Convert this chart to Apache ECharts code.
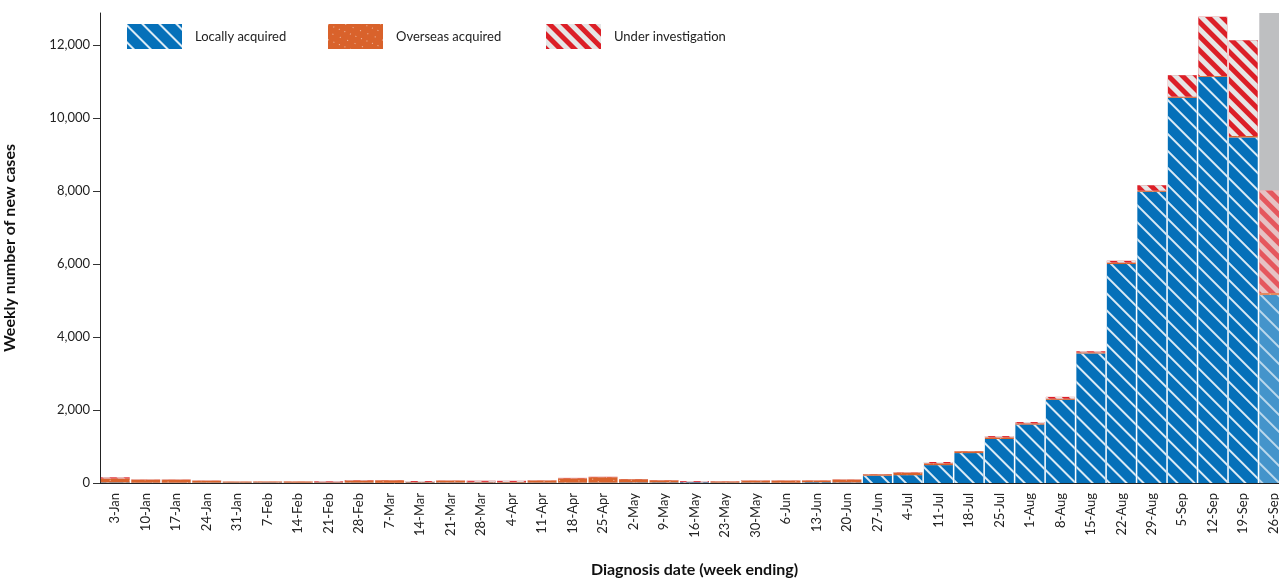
<!DOCTYPE html>
<html>
<head>
<meta charset="utf-8">
<script src="https://cdn.jsdelivr.net/npm/echarts@6/dist/echarts.min.js"></script>
<style>
html,body{margin:0;padding:0;background:#fff;}
#chart{width:1279px;height:579px;}
</style>
</head>
<body>
<div id="chart"></div>
<script>
const categories = ['3-Jan','10-Jan','17-Jan','24-Jan','31-Jan','7-Feb','14-Feb','21-Feb','28-Feb','7-Mar','14-Mar','21-Mar','28-Mar','4-Apr','11-Apr','18-Apr','25-Apr','2-May','9-May','16-May','23-May','30-May','6-Jun','13-Jun','20-Jun','27-Jun','4-Jul','11-Jul','18-Jul','25-Jul','1-Aug','8-Aug','15-Aug','22-Aug','29-Aug','5-Sep','12-Sep','19-Sep','26-Sep'];
const locallyAcquired = [15,8,8,10,10,12,8,10,10,5,12,12,12,10,10,10,10,15,15,20,10,12,8,20,15,200,215,490,820,1205,1600,2280,3550,6000,7980,10556,11130,9470,5150];
const overseasAcquired = [110,85,85,55,30,30,35,15,60,70,15,55,20,20,60,120,150,90,60,5,35,55,60,50,80,40,70,50,50,45,35,30,30,40,30,30,25,40,60];
const underInvestigation = [30,5,5,5,3,3,3,20,10,5,25,5,30,30,5,10,10,5,5,25,5,5,5,5,5,5,10,35,5,35,35,50,30,50,150,590,1620,2625,2815];
const yTicks = [0,2000,4000,6000,8000,10000,12000];
const yMax = 12880;
const incompleteIndex = categories.length - 1;

const fontFamily = 'Lato, "Noto Sans", sans-serif';
function fade(arr){
  return arr.map((v,i)=> i===incompleteIndex ? {value:v, itemStyle:{opacity:0.75}} : v);
}
const lastTotal = locallyAcquired[incompleteIndex] + overseasAcquired[incompleteIndex] + underInvestigation[incompleteIndex];
const incomplete = categories.map((c,i)=> i===incompleteIndex ? yMax - lastTotal : null);

const blueDecal = {symbol:'rect', symbolSize:1, dashArrayX:[1,0], dashArrayY:[1.2,9.5], rotation:Math.PI/4, color:'rgba(255,255,255,0.85)'};
const orangeDecal = {symbol:'rect', symbolSize:1, dashArrayX:[[1,7],[1,5]], dashArrayY:[1,6], rotation:0.4, color:'rgba(255,255,255,0.6)'};
const redDecal = {symbol:'rect', symbolSize:1, dashArrayX:[1,0], dashArrayY:[5,5], rotation:Math.PI/4, color:'#e6e6e6'};

const legendBase = {top:24, padding:0, itemWidth:55, itemHeight:25, icon:'rect', selectedMode:false,
  textStyle:{fontFamily, fontSize:13, color:'#222', padding:[0,0,0,8]}};

const chart = echarts.init(document.getElementById('chart'));
chart.setOption({
  animation:false,
  textStyle:{fontFamily},
  legend:[
    Object.assign({left:127, data:['Locally acquired']}, legendBase),
    Object.assign({left:328, data:['Overseas acquired']}, legendBase),
    Object.assign({left:546, data:['Under investigation']}, legendBase)
  ],
  grid:{left:100, right:-10, top:13, bottom:96, containLabel:false, outerBoundsMode:'none'},
  xAxis:{
    type:'category', data:categories,
    name:'Diagnosis date (week ending)', nameLocation:'middle', nameGap:79,
    nameTextStyle:{fontFamily, fontSize:16, fontWeight:'bold', color:'#111'},
    axisLine:{lineStyle:{color:'#222', width:1}},
    axisTick:{alignWithLabel:true, length:8, lineStyle:{color:'#333'}},
    axisLabel:{rotate:90, fontSize:13, color:'#222', margin:10, interval:0, fontFamily}
  },
  yAxis:{
    type:'value', min:0, max:yMax, interval:2000,
    name:'Weekly number of new cases', nameLocation:'middle', nameGap:82,
    nameTextStyle:{fontFamily, fontSize:16, fontWeight:'bold', color:'#111'},
    axisLine:{show:true, lineStyle:{color:'#222', width:1}},
    axisTick:{show:true, length:7, lineStyle:{color:'#333'}, customValues:yTicks},
    axisLabel:{fontSize:13, color:'#222', margin:10, customValues:yTicks, fontFamily,
      formatter:v=>v.toLocaleString('en-US')},
    splitLine:{show:false}
  },
  series:[
    {name:'Locally acquired', type:'bar', stack:'total', data:fade(locallyAcquired), barCategoryGap:'5%',
      itemStyle:{color:'#0570b9', decal:blueDecal}},
    {name:'Overseas acquired', type:'bar', stack:'total', data:fade(overseasAcquired),
      itemStyle:{color:'#d9622b', decal:orangeDecal}},
    {name:'Under investigation', type:'bar', stack:'total', data:fade(underInvestigation),
      itemStyle:{color:'#dc1f27', decal:redDecal}},
    {name:'Incomplete', type:'bar', stack:'total', data:incomplete,
      itemStyle:{color:'#bebfc1'}}
  ]
});
</script>
</body>
</html>
